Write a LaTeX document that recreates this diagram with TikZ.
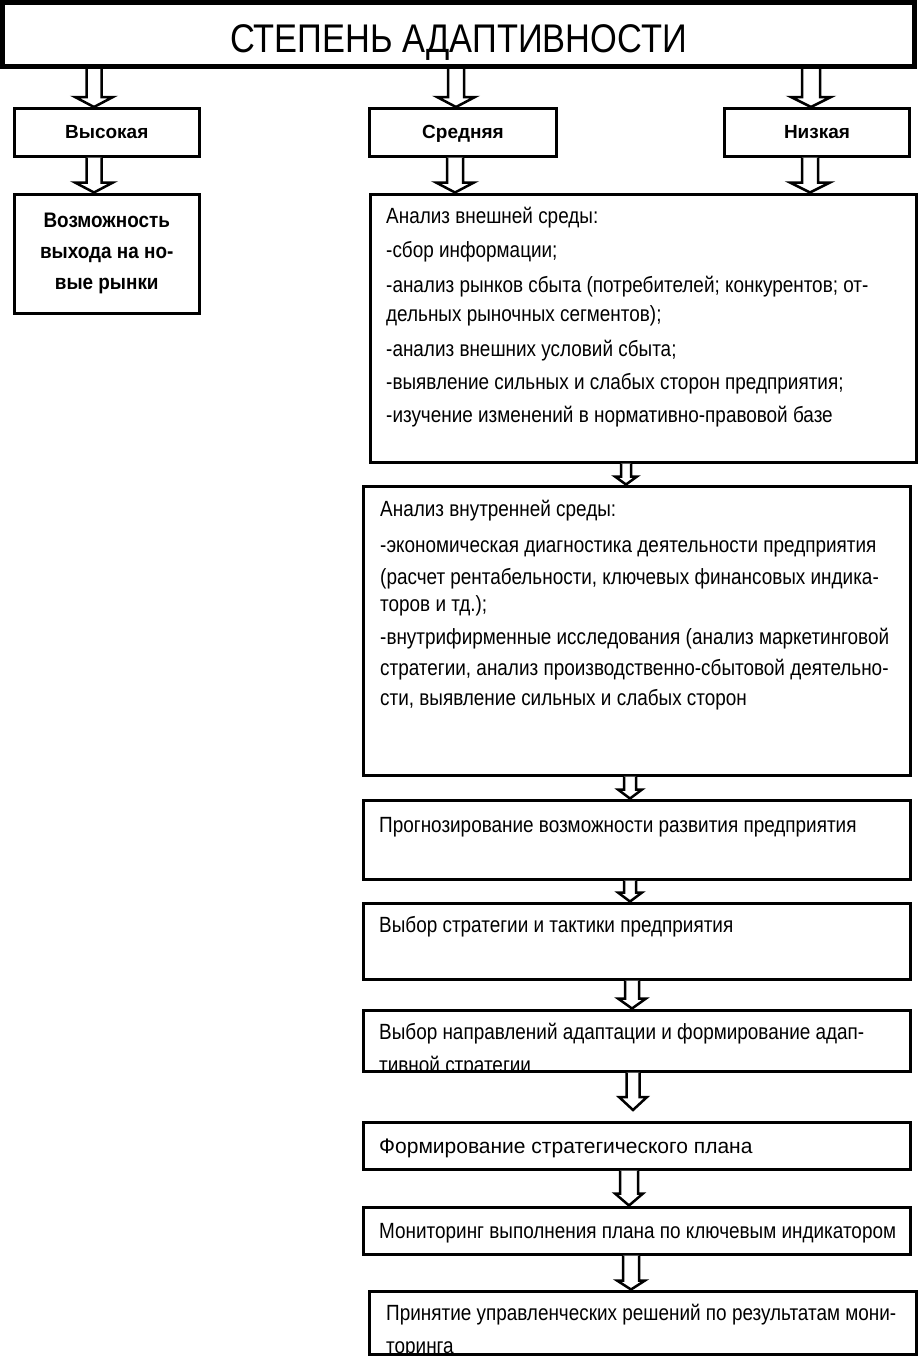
\documentclass[tikz,border=0pt]{standalone}
\usepackage{fontspec}
\setmainfont{Liberation Sans}
\newfontfamily\nrw[FakeStretch=0.86]{Liberation Sans}
\newfontfamily\nrwb[FakeStretch=0.9]{Liberation Sans Bold}
\usetikzlibrary{calc}
\tikzset{
  frame/.style={draw, line width=3pt, fill=white, rectangle, inner sep=0pt},
  arrowline/.style={draw, line width=2.5pt, fill=white, line join=miter},
  lefttext/.style={anchor=base west, inner sep=0pt, font=\nrw\fontsize{22}{31}\selectfont},
  smalllabel/.style={font=\bfseries\fontsize{19}{22}\selectfont, text height=14pt, text depth=2pt}
}
% box: [options]{name}{x1}{y1}{x2}{y2}{text}
\newcommand{\bx}[7][]{\node[frame,#1,minimum width={(#5-#3)*1pt},minimum height={(#6-#4)*1pt}] (#2) at ({(#3+#5)/2},{(#4+#6)/2}) {#7};}
% hollow block arrow: from, to, x, half shaft, half head, head length
\newcommand{\blk}[6]{\draw[arrowline] let \p1=(#1), \p2=(#2) in
  (#3pt-#4pt,\y1) -- (#3pt-#4pt,\y2+#6pt) -- (#3pt-#5pt,\y2+#6pt) -- (#3pt,\y2)
  -- (#3pt+#5pt,\y2+#6pt) -- (#3pt+#4pt,\y2+#6pt) -- (#3pt+#4pt,\y1);}
\begin{document}
\begin{tikzpicture}[x=1pt,y=-1pt]
\useasboundingbox (0,0) rectangle (921,1357);
% title
\bx[line width=5pt, font=\nrw\fontsize{40}{42}\selectfont, text height=35pt, text depth=0pt]{title}{2.5}{2.5}{914.5}{66.5}{СТЕПЕНЬ АДАПТИВНОСТИ}
% level boxes
\bx[smalllabel]{hi}{14}{108.5}{199.5}{156}{Высокая}
\bx[smalllabel]{mid}{369.5}{108.5}{556.5}{156}{Средняя}
\bx[smalllabel]{lo}{724.5}{108.5}{909.5}{156}{Низкая}
% left column
\bx[align=center, font=\nrwb\fontsize{21}{31}\selectfont]{opp}{14}{194}{199.5}{313}{Возможность\\выхода на но-\\вые рынки}
% right column boxes
\bx{ext}{370}{194}{916.5}{462}{}
\bx{int}{363}{486}{910}{775}{}
\bx{prog}{363}{800}{910}{879}{}
\bx{strat}{363}{903}{910}{979}{}
\bx{dir}{363}{1010}{910}{1071}{}
\bx{plan}{363}{1122}{910}{1169}{}
\bx{mon}{363}{1207}{910}{1254}{}
\bx{dec}{369}{1291}{916.5}{1354}{}
\coordinate (tipA) at (633,1110);
% texts
\node[lefttext] (text) at (386,223) {\parbox[t]{600pt}{\fontsize{22}{33}\selectfont
Анализ внешней среды:\\[1pt]
-сбор информации;\\[2pt]
-анализ рынков сбыта (потребителей; конкурентов; от-\\[-4pt]
дельных рыночных сегментов);\\[2pt]
-анализ внешних условий сбыта;\\
-выявление сильных и слабых сторон предприятия;\\
-изучение изменений в нормативно-правовой базе}};
\node[lefttext] (tint) at (380,516) {\parbox[t]{600pt}{\fontsize{22}{31}\selectfont
Анализ внутренней среды:\\[5pt]
-экономическая диагностика деятельности предприятия\\[1pt]
(расчет рентабельности, ключевых финансовых индика-\\[-4pt]
торов и тд.);\\[2pt]
-внутрифирменные исследования (анализ маркетинговой\\
стратегии, анализ производственно-сбытовой деятельно-\\[-1pt]
сти, выявление сильных и слабых сторон}};
\node[lefttext] (tprog) at (379,832) {Прогнозирование возможности развития предприятия};
\node[lefttext] (tstrat) at (379,932) {Выбор стратегии и тактики предприятия};
\begin{scope}
\clip (dir.north west) rectangle (dir.south east);
\node[lefttext] (tdir) at (379,1039) {\parbox[t]{600pt}{\fontsize{22}{33}\selectfont
Выбор направлений адаптации и формирование адап-\\
тивной стратегии}};
\end{scope}
\node[lefttext, font=\fontsize{21}{31}\selectfont] (tplan) at (379,1153) {Формирование стратегического плана};
\node[lefttext] (tmon) at (379,1238) {Мониторинг выполнения плана по ключевым индикатором};
\begin{scope}
\clip (dec.north west) rectangle (dec.south east);
\node[lefttext] (tdec) at (386,1320) {\parbox[t]{600pt}{\fontsize{22}{33}\selectfont
Принятие управленческих решений по результатам мони-\\
торинга}};
\end{scope}
% arrows
\blk{title.south}{hi.north}{94}{7.5}{19}{10}
\blk{title.south}{mid.north}{456}{8}{19}{10}
\blk{title.south}{lo.north}{811}{9}{20}{10}
\blk{hi.south}{opp.north}{94}{7.5}{19}{10}
\blk{mid.south}{ext.north}{455}{8}{19}{10}
\blk{lo.south}{ext.north}{810}{8}{20}{10}
\blk{ext.south}{int.north}{626}{5}{11}{8}
\blk{int.south}{prog.north}{630}{6}{12}{9}
\blk{prog.south}{strat.north}{630}{6}{12}{9}
\blk{strat.south}{dir.north}{632}{7}{14}{10}
\blk{dir.south}{tipA}{633}{6.5}{14}{13}
\blk{plan.south}{mon.north}{629}{9}{14}{12}
\blk{mon.south}{dec.north}{631}{8}{14}{9}
\end{tikzpicture}
\end{document}
